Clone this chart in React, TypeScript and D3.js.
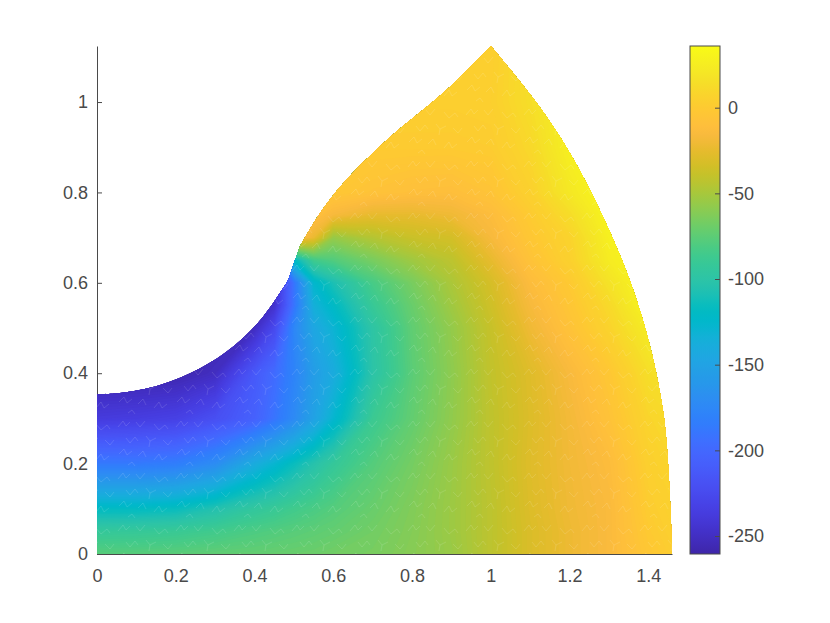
import React, { useEffect, useRef } from 'react';
import * as d3 from 'd3';

// parula colormap, 64 steps
const parula = [
  [0.2422, 0.1504, 0.6603], [0.2504, 0.165, 0.7076], [0.2578, 0.1818, 0.7511], [0.2647, 0.1978, 0.7952],
  [0.2706, 0.2147, 0.8364], [0.2751, 0.2342, 0.871], [0.2783, 0.2559, 0.8991], [0.2803, 0.2782, 0.9221],
  [0.2813, 0.3006, 0.9414], [0.281, 0.3228, 0.9579], [0.2795, 0.3447, 0.9717], [0.276, 0.3667, 0.9829],
  [0.2699, 0.3892, 0.9906], [0.2602, 0.4123, 0.9952], [0.244, 0.4358, 0.9988], [0.2206, 0.4603, 0.9973],
  [0.1963, 0.4847, 0.9892], [0.1834, 0.5074, 0.9798], [0.1786, 0.5289, 0.9682], [0.1764, 0.5499, 0.952],
  [0.1687, 0.5703, 0.9359], [0.154, 0.5902, 0.9218], [0.146, 0.6091, 0.9079], [0.138, 0.6276, 0.8973],
  [0.1248, 0.6459, 0.8883], [0.1113, 0.6635, 0.8763], [0.0952, 0.6798, 0.8598], [0.0689, 0.6948, 0.8394],
  [0.0297, 0.7082, 0.8163], [0.0036, 0.7203, 0.7917], [0.0067, 0.7312, 0.766], [0.0433, 0.7411, 0.7394],
  [0.0964, 0.75, 0.712], [0.1408, 0.7584, 0.6842], [0.1717, 0.767, 0.6554], [0.1938, 0.7758, 0.6251],
  [0.2161, 0.7843, 0.5923], [0.247, 0.7918, 0.5567], [0.2906, 0.7973, 0.5188], [0.3406, 0.8008, 0.4789],
  [0.3909, 0.8029, 0.4354], [0.4456, 0.8024, 0.3909], [0.5044, 0.7993, 0.348], [0.5616, 0.7942, 0.3045],
  [0.6174, 0.7876, 0.2612], [0.672, 0.7793, 0.2227], [0.7242, 0.7698, 0.191], [0.7738, 0.7598, 0.1646],
  [0.8203, 0.7498, 0.1535], [0.8634, 0.7406, 0.1596], [0.9035, 0.733, 0.1774], [0.9393, 0.7288, 0.21],
  [0.9728, 0.7298, 0.2394], [0.9956, 0.7434, 0.2371], [0.997, 0.7659, 0.2199], [0.9952, 0.7861, 0.1999],
  [0.9892, 0.8086, 0.1827], [0.9786, 0.8333, 0.1721], [0.9676, 0.8589, 0.1617], [0.961, 0.888, 0.154],
  [0.9597, 0.9135, 0.1423], [0.9628, 0.9373, 0.1265], [0.9691, 0.9606, 0.1064], [0.9769, 0.9839, 0.0805],
].map(([r, g, b]) => d3.rgb(r * 255, g * 255, b * 255).formatHex());

const cMin = -260.5;
const cMax = 36;

const xTicks = [0, 0.2, 0.4, 0.6, 0.8, 1, 1.2, 1.4];
const yTicks = [0, 0.2, 0.4, 0.6, 0.8, 1];
const cTicks = [-250, -200, -150, -100, -50, 0];

// outline of the plate, [x, y]
const bottomEdge = [[0, 0], [1.46, 0]];
const outerArc = [
  [1.46, 0], [1.438, 0.312], [1.37, 0.562], [1.252, 0.805], [1.142, 0.967], [1.0, 1.124],
];
const upperEdge = [
  [1.0, 1.124], [0.888, 1.027], [0.727, 0.909], [0.625, 0.82], [0.566, 0.754], [0.515, 0.68],
];
const notchEdge = [[0.515, 0.68], [0.503, 0.65], [0.486, 0.606]];
const lowerEdge = [
  [0.486, 0.606], [0.422, 0.525], [0.346, 0.459], [0.262, 0.411], [0.16, 0.374], [0.058, 0.356], [0, 0.353],
];

// field values, on an uneven grid
const xNodes = [0, 0.1, 0.2, 0.3, 0.4, 0.45, 0.5, 0.55, 0.6, 0.7, 0.8, 0.9, 1, 1.1, 1.2, 1.3, 1.4, 1.5];
const yNodes = [0, 0.05, 0.1, 0.2, 0.3, 0.4, 0.5, 0.55, 0.6, 0.65, 0.7, 0.75, 0.8, 0.9, 1, 1.1, 1.2];
const fieldRows = [
  [-76, -76, -75, -73, -72, -71, -70, -69, -67, -65, -60, -54, -42, -30, -21, -14, -2, 6],
  [-92, -91, -89, -85, -80, -78, -76, -74, -72, -67, -61, -53, -42, -30, -21, -14, 0, 8],
  [-118, -118, -115, -105, -94, -90, -85, -81, -77, -70, -62, -53, -42, -29, -20, -14, 2, 9],
  [-186, -186, -183, -170, -140, -128, -115, -103, -92, -77, -66, -54, -41, -28, -19, -12, 5, 12],
  [-237, -235, -232, -220, -205, -190, -172, -150, -127, -88, -72, -57, -41, -29, -18, -6, 9, 15],
  [-260, -260, -258, -250, -212, -197, -178, -155, -140, -100, -75, -58, -40, -28, -15, -2, 15, 22],
  [-260, -260, -260, -258, -250, -225, -175, -145, -130, -98, -73, -56, -38, -20, -6, 8, 25, 30],
  [-260, -260, -260, -258, -255, -245, -190, -135, -120, -90, -70, -52, -35, -16, -3, 12, 32, 34],
  [-260, -260, -260, -258, -255, -250, -190, -125, -108, -82, -65, -48, -32, -12, 0, 18, 34, 34],
  [-260, -260, -260, -258, -255, -220, -120, -85, -78, -65, -52, -42, -24, -6, 6, 25, 34, 34],
  [-5, -5, -5, -5, -5, -5, -5, -22, -55, -45, -37, -33, -16, -2, 8, 28, 34, 34],
  [-5, -5, -5, -5, -5, -5, -6, -8, -16, -24, -24, -20, -12, 1, 14, 32, 34, 34],
  [-2, -2, -2, -2, -2, -2, -2, -2, -2, -6, -9, -10, -5, 6, 22, 34, 34, 34],
  [1, 1, 1, 1, 1, 1, 1, 1, 1, 1, 1, 1, 2, 11, 28, 34, 34, 34],
  [4, 4, 4, 4, 4, 4, 4, 4, 4, 4, 4, 4, 5, 15, 28, 34, 34, 34],
  [4, 4, 4, 4, 4, 4, 4, 4, 4, 4, 4, 4, 4, 16, 28, 34, 34, 34],
  [4, 4, 4, 4, 4, 4, 4, 4, 4, 4, 4, 4, 4, 16, 28, 34, 34, 34],
];

const width = 830;
const height = 623;
const plot = { left: 97, right: 672, top: 46, bottom: 554 };
const bar = { left: 690, right: 720 };
const axisColor = '#4a4a4a';
const font = '"Liberation Sans", Arial, sans-serif';

export default function App() {
  const axesRef = useRef<SVGGElement>(null);
  const cAxisRef = useRef<SVGGElement>(null);

  const x = d3.scaleLinear().domain([0, 1.46]).range([plot.left, plot.right]);
  const y = d3.scaleLinear().domain([0, 1.124]).range([plot.bottom, plot.top]);
  const c = d3.scaleLinear().domain([cMin, cMax]).range([plot.bottom, plot.top]);

  const color = d3.scaleLinear<string>()
    .domain(parula.map((_, i) => cMin + ((cMax - cMin) * i) / (parula.length - 1)))
    .range(parula)
    .clamp(true);

  // grid index to data position (d3.contours puts values at i + 0.5)
  const ix = d3.scaleLinear().domain(d3.range(xNodes.length)).range(xNodes);
  const iy = d3.scaleLinear().domain(d3.range(yNodes.length)).range(yNodes);

  const contours = d3.contours()
    .size([xNodes.length, yNodes.length])
    .smooth(true)
    .thresholds(d3.range(cMin, cMax, 1.5))(fieldRows.flat());

  const contourPath = d3.geoPath(d3.geoTransform({
    point(px, py) {
      this.stream.point(x(ix(px - 0.5)), y(iy(py - 0.5)));
    },
  }));

  const straightEdge = d3.line<number[]>().x(d => x(d[0])).y(d => y(d[1]));
  const curvedEdge = d3.line<number[]>().x(d => x(d[0])).y(d => y(d[1])).curve(d3.curveCatmullRom);
  const outline = [
    straightEdge(bottomEdge),
    curvedEdge(outerArc)!.replace(/^M/, 'L'),
    curvedEdge(upperEdge)!.replace(/^M/, 'L'),
    straightEdge(notchEdge)!.replace(/^M/, 'L'),
    curvedEdge(lowerEdge)!.replace(/^M/, 'L'),
    'Z',
  ].join('');

  useEffect(() => {
    const g = d3.select(axesRef.current);
    g.selectAll('*').remove();

    const style = (sel: any) => {
      sel.selectAll('path').attr('stroke', axisColor).attr('stroke-width', 1);
      sel.selectAll('line').attr('stroke', axisColor).attr('stroke-width', 1);
      sel.selectAll('text').attr('fill', axisColor).style('font-family', font).style('font-size', '18px');
    };

    g.append('g')
      .attr('transform', `translate(0,${plot.bottom})`)
      .call(d3.axisBottom(x).tickValues(xTicks).tickSizeInner(-5).tickSizeOuter(0).tickPadding(15).tickFormat(d => String(d)))
      .call(style);

    g.append('g')
      .attr('transform', `translate(${plot.left},0)`)
      .call(d3.axisLeft(y).tickValues(yTicks).tickSizeInner(-5).tickSizeOuter(0).tickPadding(9).tickFormat(d => String(d)))
      .call(style);

    const cg = d3.select(cAxisRef.current);
    cg.selectAll('*').remove();
    cg.attr('transform', `translate(${bar.right},0)`)
      .call(d3.axisRight(c).tickValues(cTicks).tickSizeInner(-5).tickSizeOuter(0).tickPadding(8).tickFormat(d => String(d)));
    cg.select('path').remove();
    cg.selectAll('line').attr('stroke', axisColor).attr('stroke-width', 1);
    cg.selectAll('text').attr('fill', axisColor).style('font-family', font).style('font-size', '18px');
  }, []);

  return (
    <svg
      width={width}
      height={height}
      style={{ position: 'absolute', left: 0, top: 0, display: 'block', background: '#fff' }}
    >
      <defs>
        <clipPath id="plate">
          <path d={outline} />
        </clipPath>
        <linearGradient id="barFill" x1="0" y1="1" x2="0" y2="0">
          {parula.map((col, i) => (
            <stop key={i} offset={i / (parula.length - 1)} stopColor={col} />
          ))}
        </linearGradient>
        {/* hairline gaps between the mesh triangles */}
        <pattern id="cracks" width={58} height={52} patternUnits="userSpaceOnUse">
          <g fill="none" stroke="#fff" strokeWidth={0.6} strokeOpacity={0.2}>
            <path d="M2 11 L7 5 L10 10 L14 6" />
            <path d="M20 6 L24 11 L29 5" />
            <path d="M38 8 L43 14 L49 9 L52 13" />
            <path d="M10 22 L14 27 L19 21 L22 25" />
            <path d="M30 20 L34 25 L33 31 M34 25 L40 22" />
            <path d="M47 24 L52 29 L56 24" />
            <path d="M3 38 L8 33 L11 39 L16 35" />
            <path d="M22 40 L27 35 L30 41" />
            <path d="M38 44 L43 38 L46 44 L51 40" />
            <path d="M12 49 L16 46 L19 50" />
          </g>
        </pattern>
      </defs>

      <g ref={axesRef} />

      <g clipPath="url(#plate)">
        {contours.map((d, i) => (
          <path key={i} d={contourPath(d) ?? undefined} fill={color(d.value)} />
        ))}
        <rect
          x={plot.left}
          y={plot.top}
          width={plot.right - plot.left}
          height={plot.bottom - plot.top}
          fill="url(#cracks)"
        />
      </g>

      <rect
        x={bar.left}
        y={plot.top}
        width={bar.right - bar.left}
        height={plot.bottom - plot.top}
        fill="url(#barFill)"
        stroke={axisColor}
        strokeWidth={1}
      />
      <g ref={cAxisRef} />
    </svg>
  );
}
